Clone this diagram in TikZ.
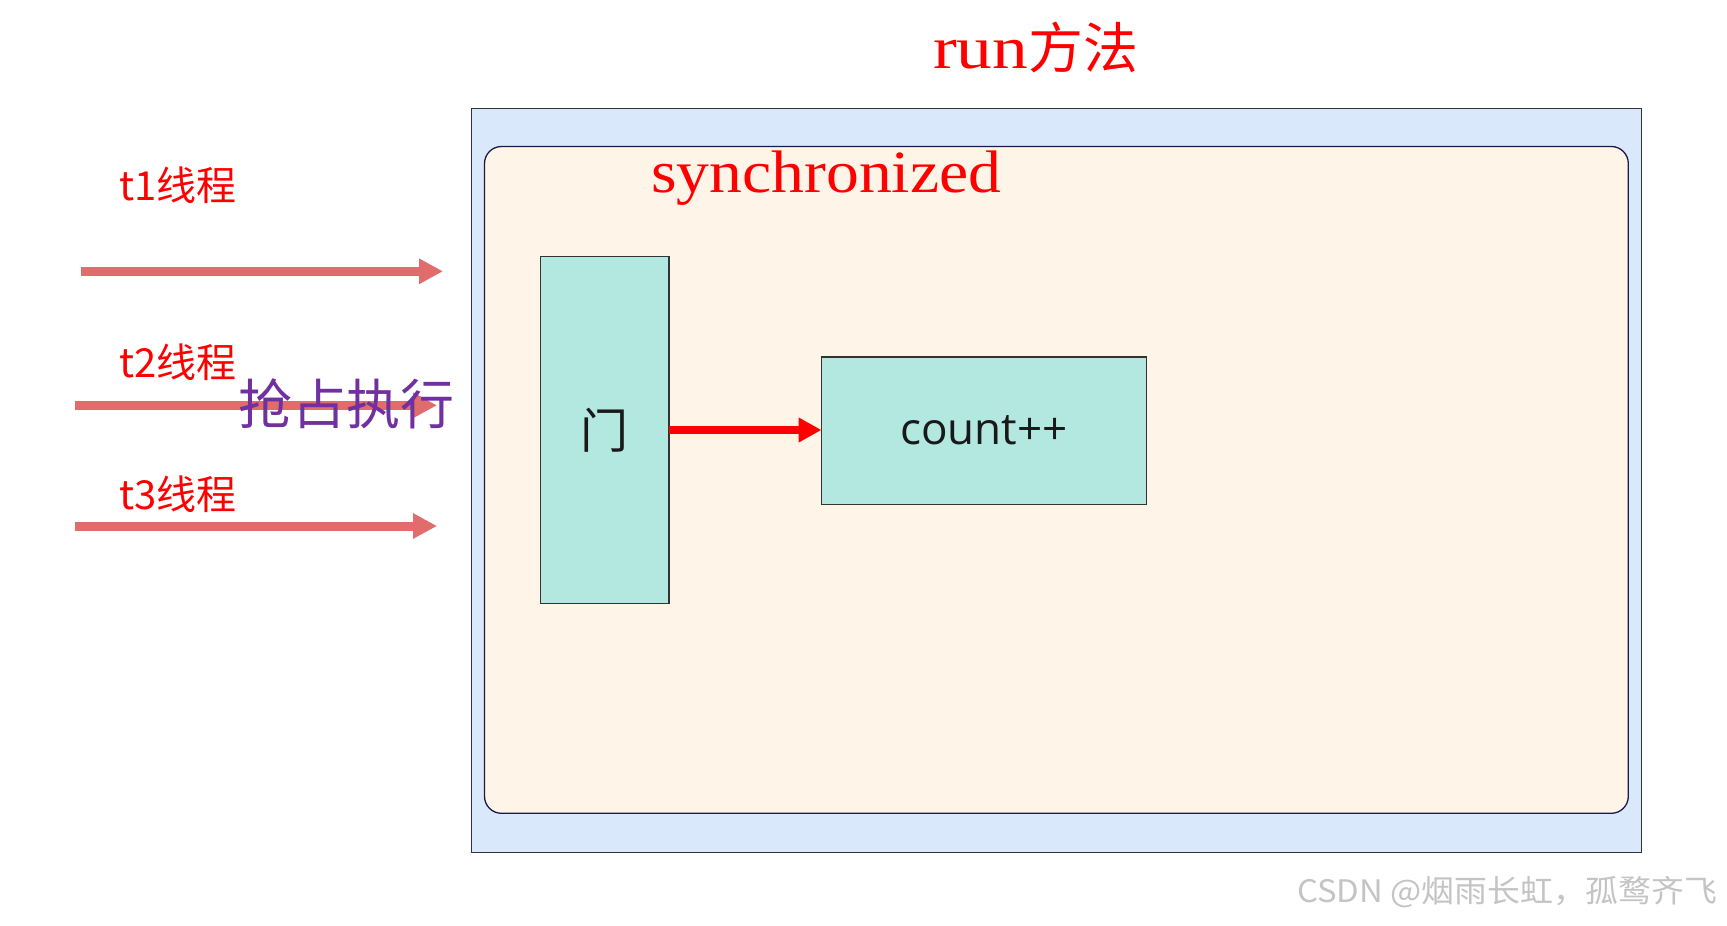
\documentclass[tikz,border=0pt]{standalone}
\usepackage{fontspec}
\usetikzlibrary{arrows.meta}
\newfontfamily\cjk{Noto Sans CJK SC}
\newfontfamily\serifL{Liberation Serif}
\newfontfamily\osans{Open Sans}
\definecolor{outerfill}{HTML}{DAE8FC}
\definecolor{innerfill}{HTML}{FEF4E8}
\definecolor{boxfill}{HTML}{B2E8E0}
\definecolor{threadred}{HTML}{E06C6C}
\definecolor{grabpurple}{HTML}{7030A0}
\definecolor{innerline}{HTML}{1A1A4A}
\definecolor{boxline}{HTML}{333333}
\definecolor{wmgray}{HTML}{C4C4C4}
\begin{document}
\begin{tikzpicture}[x=1pt,y=-1pt,
  plainbox/.style={rectangle, inner sep=0pt, outer sep=0pt},
  outerbox/.style={plainbox, draw=boxline, line width=1.3pt, fill=outerfill},
  innerbox/.style={plainbox, draw=innerline, line width=1.3pt, fill=innerfill, rounded corners=17pt},
  tealbox/.style={plainbox, draw=boxline, line width=1.2pt, fill=boxfill, text=black!90},
  threadarrow/.style={draw=threadred, line width=9pt, -{Triangle[length=24pt,width=24pt]}},
  gatearrow/.style={draw=red, line width=8.3pt, -{Triangle[length=23pt,width=23.5pt]}},
  redlabel/.style={inner sep=0pt, text=red},
  threadlabel/.style={redlabel, anchor=base west, font=\cjk\fontsize{40}{40}\selectfont}
]
\useasboundingbox (0,0) rectangle (1727,926);
\fill[white] (0,0) rectangle (1727,926);

% containers
\node[outerbox, minimum width=1169.8pt, minimum height=744pt] (outer) at (1056.4,480.3) {};
\node[innerbox, minimum width=1143.8pt, minimum height=666.8pt] (inner) at (1056.4,479.9) {};

% title labels
\node[redlabel, anchor=base west] (runlbl) at (933,68.3)
  {{\fontsize{60}{60}\selectfont\serifL\scalebox{1.19}[1]{run}}{\cjk\fontsize{55}{55}\selectfont 方法}};
\node[redlabel, anchor=base west] (synclbl) at (651,192.3)
  {\fontsize{60}{60}\selectfont\serifL\scalebox{1.094}[1]{synchronized}};

% gate and count
\node[tealbox, minimum width=128.2pt, minimum height=347pt, font=\cjk\fontsize{48}{48}\selectfont] (gate) at (604.9,430.1) {门};
\node[tealbox, minimum width=325.1pt, minimum height=147.4pt, font=\osans\fontsize{44}{44}\selectfont] (count) at (984.05,430.7) {count++};
\draw[gatearrow] (gate.east |- 0,430) -- (count.west |- 0,430);

% threads
\coordinate (t1s) at (81,271.3);
\coordinate (t1e) at (443,271.3);
\coordinate (t2s) at (75,405.3);
\coordinate (t2e) at (437,405.3);
\coordinate (t3s) at (75,526);
\coordinate (t3e) at (437,526);
\draw[threadarrow] (t1s) -- (t1e);
\draw[threadarrow] (t2s) -- (t2e);
\draw[threadarrow] (t3s) -- (t3e);

\node[threadlabel] (t1lbl) at (119,200) {t1线程};
\node[threadlabel] (t2lbl) at (119,377.3) {t2线程};
\node[threadlabel] (t3lbl) at (119,509) {t3线程};

\node[inner sep=0pt, text=grabpurple, font=\cjk\fontsize{54}{54}\selectfont] (grab) at (346,404) {抢占执行};

% watermark
\node[inner sep=0pt, anchor=west, text=wmgray, font=\cjk\fontsize{31}{31}\selectfont] (wm) at (1297,892)
  {\scalebox{1.06}[1]{CSDN @烟雨长虹，孤鹜齐飞}};
\end{tikzpicture}
\end{document}
